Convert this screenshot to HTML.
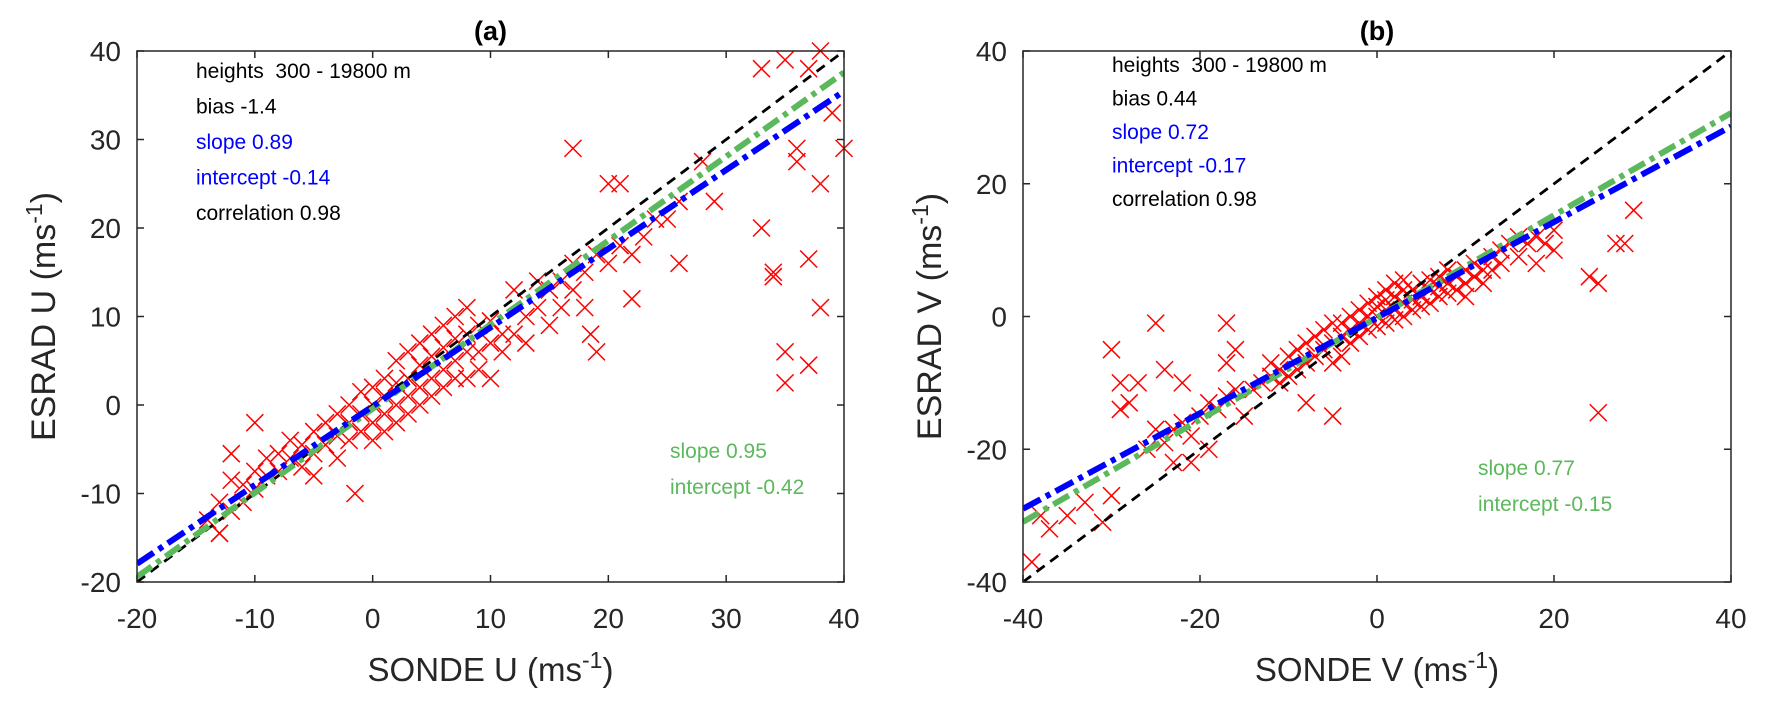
<!DOCTYPE html>
<html><head><meta charset="utf-8"><style>
html,body{margin:0;padding:0;background:#fff;}
svg{display:block;font-family:"Liberation Sans",Arial,sans-serif;}
text{white-space:pre;}
</style></head><body>
<svg id="fig" width="1766" height="706" viewBox="0 0 1766 706" xmlns="http://www.w3.org/2000/svg"></svg>
<script>
const ticksA_x=[-20,-10,0,10,20,30,40];
const ticksA_y=[-20,-10,0,10,20,30,40];
const ticksB=[-40,-20,0,20,40];
const fitA_blue=[0.89,-0.14];
const fitA_green=[0.95,-0.42];
const fitB_blue=[0.72,-0.17];
const fitB_green=[0.77,-0.15];
const ptsA_x=[-14,-13,-13,-12,-11,-11,-10,-10,-9,-9,-8,-8,-7,-7,-6,-6,-5,-5,-5,-4,-4,-3,-3,-3,-2,-2,-2,-1,-1,-1,0,0,0,0,1,1,1,1,2,2,2,2,3,3,3,3,4,4,4,4,5,5,5,5,6,6,6,6,7,7,7,7,8,8,8,8,9,9,9,10,10,10,11,11,12,12,13,13,14,14,15,15,16,16,17,17,18,18,19,20,21,22,23,24,25,26,
17,33,35,37,38,39,40,36,36,38,33,34,34,37,38,35,35,37,-1.5,-12,-10,-13,-12,26,22,18.5,19,20,21,28,29];
const ptsA_y=[-13,-11,-14.5,-8.5,-11,-9,-9.5,-7.5,-8,-6,-7.5,-5.5,-6,-4,-4.5,-7,-3,-5.5,-8,-2,-4.5,-1,-3.5,-6,-2,0,-4,-1,1.5,-3,0,2,-2,-4,1,3,-1,-3,0,2.5,-2,5,1,3,-1,6,2,4.5,0,7,3,5.5,1,8,4,6.5,2,9,5,7.5,3,10,6,8,3,11,6,9,4,7,9.5,3,8,6,8,13,10,7,11,14,13,9,14,11,13,16,15,11,17,16,18,17,19,21,21,23,
29,38,39,38,40,33,29,29,27.5,25,20,15,14.5,16.5,11,6,2.5,4.5,-10,-5.5,-2,-14.5,-12,16,12,8,6,25,25,27.5,23];
const ptsB_x=[-14,-13,-12,-12,-11,-11,-10,-10,-9,-9,-8,-8,-7,-7,-6,-6,-5,-5,-5,-4,-4,-4,-3,-3,-3,-2,-2,-2,-1,-1,-1,0,0,0,0,1,1,1,1,2,2,2,2,3,3,3,3,4,4,4,5,5,5,6,6,6,7,7,7,8,8,8,9,9,10,10,10,11,11,12,12,13,13,14,14,15,16,17,18,19,20,-20,-19,-18,-17,-16,-22,-21,-23,-26,-25,-24,
-30,-29,-28,-27,-29,-25,-24,-22,-17,-16,-17,-37,-39,-38,-35,-31,-33,-30,-23,-21,-19,-15,-5,-8,25,25,27,28,29,24,16,20,18];
const ptsB_y=[-11,-10,-9,-7,-8,-10,-6,-9,-5,-8,-4,-7,-3,-6,-2,-5,-1,-4,-7,-1,-3,-6,0,-2,-4,1,-1,-3,0,2,-2,0,1.5,-1.5,3,1,2.5,-1,4,1,3,-0.5,5,2,4,0,5.5,2.5,4,1,3,5,1.5,4,5.5,2,4.5,6,3,5,7,3.5,6,4,7,5,3,8,6,7,5,9,7,10,8,11,9,11,12,11,13,-15,-13,-14,-12,-11,-16,-18,-17,-20,-17,-19,
-5,-10,-13,-10,-14,-1,-8,-10,-1,-5,-7,-32,-37,-30,-30,-31,-28,-27,-22,-22,-20,-15,-15,-13,-14.5,5,11,11,16,6,12,10,8];

const NS='http://www.w3.org/2000/svg';
const svg=document.getElementById('fig');
function mk(tag,attrs,parent){const e=document.createElementNS(NS,tag);for(const k in attrs)e.setAttribute(k,attrs[k]);(parent||svg).appendChild(e);return e;}

function panel(cfg){
  const L=cfg.L,R=cfg.R,T=51,B=582;
  const sx=v=>L+(v-cfg.xmin)/(cfg.xmax-cfg.xmin)*(R-L);
  const sy=v=>B-(v-cfg.ymin)/(cfg.ymax-cfg.ymin)*(B-T);
  const g=mk('g',{});
  
  
  mk('rect',{x:L,y:T,width:R-L,height:B-T,fill:'#fff'},g);
  const pg=mk('g',{stroke:'#ff0000','stroke-width':1.5,fill:'none'},g);
  
  
  for(let i=0;i<cfg.px.length;i++){
    const x=sx(cfg.px[i]),y=sy(cfg.py[i]),s=8.5;
    const p=mk('path',{d:`M${x-s},${y-s}L${x+s},${y+s}M${x-s},${y+s}L${x+s},${y-s}`},pg);
    
    
  }
  const clip=mk('clipPath',{id:'c'+cfg.id},g);mk('rect',{x:L,y:T,width:R-L,height:B-T},clip);
  const lg=mk('g',{'clip-path':`url(#c${cfg.id})`,fill:'none'},g);
  const x0=cfg.xmin,x1=cfg.xmax;
  const one=mk('line',{x1:sx(x0),y1:sy(x0),x2:sx(x1),y2:sy(x1),stroke:'#000','stroke-width':2.8,'stroke-dasharray':'10,7'},lg);
  
  
  const gf=cfg.green;
  const gl=mk('line',{x1:sx(x0),y1:sy(gf[0]*x0+gf[1]),x2:sx(x1),y2:sy(gf[0]*x1+gf[1]),stroke:'#5cb85c','stroke-width':6,'stroke-dasharray':'18,6,5,6'},lg);
  
  
  const bf=cfg.blue;
  const bl=mk('line',{x1:sx(x0),y1:sy(bf[0]*x0+bf[1]),x2:sx(x1),y2:sy(bf[0]*x1+bf[1]),stroke:'#0000ff','stroke-width':6,'stroke-dasharray':'20,6,5,6'},lg);
  
  
  const box=mk('rect',{x:L,y:T,width:R-L,height:B-T,fill:'none',stroke:'#262626','stroke-width':1.5},g);
  
  
  cfg.xt.forEach(v=>{
    const x=sx(v);
    mk('line',{x1:x,y1:B,x2:x,y2:B-7,stroke:'#262626','stroke-width':1.5},g);
    mk('line',{x1:x,y1:T,x2:x,y2:T+7,stroke:'#262626','stroke-width':1.5},g);
    const t=mk('text',{x:x,y:628,'text-anchor':'middle','font-size':28,fill:'#262626'},g);
    t.textContent=v;
    
    
  });
  cfg.yt.forEach(v=>{
    const y=sy(v);
    mk('line',{x1:L,y1:y,x2:L+7,y2:y,stroke:'#262626','stroke-width':1.5},g);
    mk('line',{x1:R,y1:y,x2:R-7,y2:y,stroke:'#262626','stroke-width':1.5},g);
    const t=mk('text',{x:L-16,y:y+10,'text-anchor':'end','font-size':28,fill:'#262626'},g);
    t.textContent=v;
    
    
  });
  const title=mk('text',{x:(L+R)/2,y:40,'text-anchor':'middle','font-size':27,'font-weight':'bold',fill:'#000'},g);
  title.textContent=cfg.title;
  
  
  const xl=mk('text',{x:(L+R)/2,y:681,'text-anchor':'middle','font-size':33,fill:'#262626'},g);
  xl.innerHTML=cfg.xlab+' (ms<tspan dy="-13" font-size="23">-1</tspan><tspan dy="13">)</tspan>';
  
  
  const yl=mk('text',{x:0,y:0,'text-anchor':'middle','font-size':34,fill:'#262626',transform:`translate(${L-82},${(T+B)/2}) rotate(-90)`},g);
  yl.innerHTML=cfg.ylab+' (ms<tspan dy="-13" font-size="23">-1</tspan><tspan dy="13">)</tspan>';
  
  
  cfg.notes.forEach((n,i)=>{
    const t=mk('text',{x:cfg.tx,y:cfg.ty+i*cfg.sp,'font-size':21,fill:n[1]},g);
    t.textContent=n[0];
    
    
  });
  cfg.gnotes.forEach((n,i)=>{
    const t=mk('text',{x:cfg.gx,y:cfg.gy+i*36,'font-size':21,fill:'#5cb85c'},g);
    t.textContent=n;
    
    
  });
}
panel({id:'a',L:137,R:844,xmin:-20,xmax:40,ymin:-20,ymax:40,xt:ticksA_x,yt:ticksA_y,px:ptsA_x,py:ptsA_y,
  blue:fitA_blue,green:fitA_green,title:'(a)',xlab:'SONDE U',ylab:'ESRAD U',tx:196,ty:78,sp:35.5,
  notes:[['heights  300 - 19800 m','#000'],['bias -1.4','#000'],['slope 0.89','#0000ff'],['intercept -0.14','#0000ff'],['correlation 0.98','#000']],
  gx:670,gy:458,gnotes:['slope 0.95','intercept -0.42']});
panel({id:'b',L:1023,R:1731,xmin:-40,xmax:40,ymin:-40,ymax:40,xt:ticksB,yt:ticksB,px:ptsB_x,py:ptsB_y,
  blue:fitB_blue,green:fitB_green,title:'(b)',xlab:'SONDE V',ylab:'ESRAD V',tx:1112,ty:72,sp:33.5,
  notes:[['heights  300 - 19800 m','#000'],['bias 0.44','#000'],['slope 0.72','#0000ff'],['intercept -0.17','#0000ff'],['correlation 0.98','#000']],
  gx:1478,gy:475,gnotes:['slope 0.77','intercept -0.15']});
</script>
</body></html>
